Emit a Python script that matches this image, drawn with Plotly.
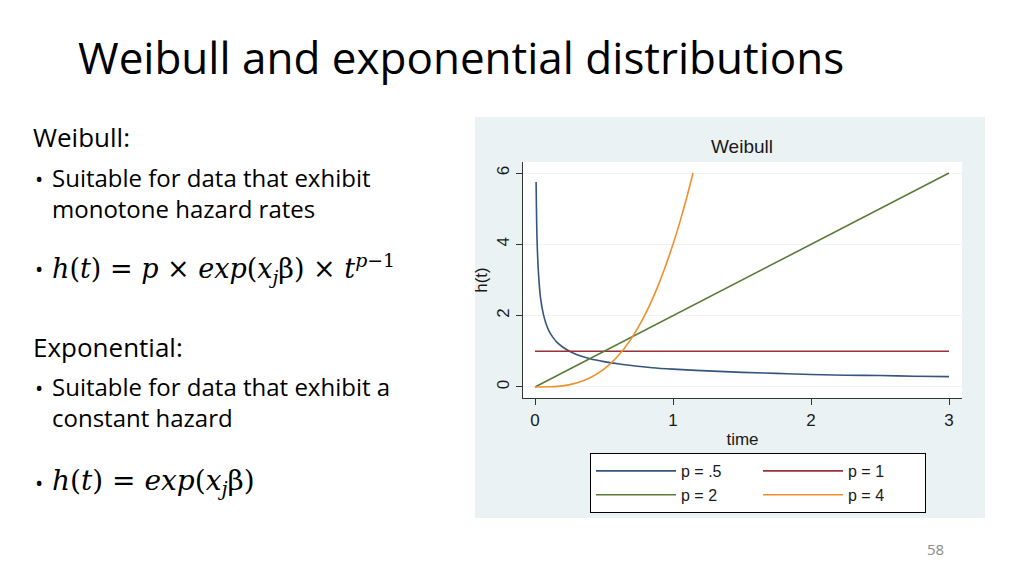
import plotly.graph_objects as go

# Weibull hazard curves
t_half = [0.008, 0.015, 0.025, 0.04, 0.06, 0.08, 0.1, 0.13, 0.16, 0.2, 0.25, 0.3, 0.4,
          0.5, 0.6, 0.7, 0.85, 1.0, 1.25, 1.5, 1.75, 2.0, 2.25, 2.5, 2.75, 3.0]
h_half = [5.75, 4.1, 3.2, 2.5, 2.05, 1.77, 1.58, 1.39, 1.25, 1.12, 1.0, 0.91, 0.79,
          0.71, 0.65, 0.6, 0.54, 0.5, 0.45, 0.41, 0.38, 0.35, 0.33, 0.32, 0.3, 0.29]

t_one = [0.0, 3.0]
h_one = [1.0, 1.0]

t_two = [0.0, 3.0]
h_two = [0.0, 6.0]

t_four = [0.0, 0.1, 0.2, 0.3, 0.4, 0.5, 0.6, 0.7, 0.8, 0.9, 1.0, 1.05, 1.1, 1.145]
h_four = [0.0, 0.004, 0.03, 0.11, 0.26, 0.5, 0.86, 1.37, 2.05, 2.92, 4.0, 4.63, 5.32, 6.0]

series_names = ["p = .5", "p = 1", "p = 2", "p = 4"]
series_colors = ["#35557f", "#9a3039", "#5a7b38", "#f0902c"]

x_ticks = [0, 1, 2, 3]
y_ticks = [0, 2, 4, 6]

# page is drawn with an 8px body margin, so the figure starts at (8, 8)
OFF = 8
W, H = 1024 - OFF, 575 - OFF
# plot region in page pixels
L, R, T, B = 523, 962, 162, 398


def px(x):
    return (x - L) / (R - L)


def py(y):
    return (B - y) / (B - T)


fig = go.Figure()
for tt, hh, name, col in zip([t_half, t_one, t_two, t_four],
                             [h_half, h_one, h_two, h_four],
                             series_names, series_colors):
    fig.add_trace(go.Scatter(x=tt, y=hh, mode="lines", name=name,
                             line=dict(color=col, width=1.6, shape="spline")))

# grey-blue Stata panel behind the chart
fig.add_shape(type="rect", xref="paper", yref="paper", layer="below",
              x0=px(475), x1=px(985), y0=py(518), y1=py(117),
              fillcolor="#eaf2f3", line=dict(width=0))
fig.add_shape(type="rect", xref="paper", yref="paper", layer="below",
              x0=0, x1=1, y0=0, y1=1,
              fillcolor="white", line=dict(width=0))

body = "Open Sans"
math = "DejaVu Serif"
headings = [("Weibull:", 137), ("Exponential:", 347)]
bullets = [
    ("Suitable for data that exhibit<br>monotone hazard rates", 193, body, 24),
    ("<i>h</i>(<i>t</i>) = <i>p</i> × <i>exp</i>(<i>x<sub>j</sub></i>β) × <i>t</i><sup><i>p</i>−1</sup>",
     268, math, 27),
    ("Suitable for data that exhibit a<br>constant hazard", 402, body, 24),
    ("<i>h</i>(<i>t</i>) = <i>exp</i>(<i>x<sub>j</sub></i>β)", 482, math, 28),
]
for txt, y in headings:
    fig.add_annotation(text=txt, xref="paper", yref="paper", x=px(31), y=py(y),
                       xanchor="left", yanchor="middle", showarrow=False,
                       font=dict(family=body, size=26, color="black"))
for txt, y, f, s in bullets:
    first_line = y - 15 if "<br>" in txt else y
    fig.add_annotation(text="•", xref="paper", yref="paper", x=px(33), y=py(first_line),
                       xanchor="left", yanchor="middle", showarrow=False,
                       font=dict(family=body, size=22, color="black"))
    fig.add_annotation(text=txt, xref="paper", yref="paper", x=px(50), y=py(y),
                       xanchor="left", yanchor="middle", align="left", showarrow=False,
                       font=dict(family=f, size=s, color="black"))

fig.add_annotation(text="Weibull and exponential distributions", xref="paper", yref="paper",
                   x=px(76), y=py(57), xanchor="left", yanchor="middle", showarrow=False,
                   font=dict(family=body, size=44, color="black"))
fig.add_annotation(text="Weibull", xref="paper", yref="paper", x=px(742), y=py(146),
                   xanchor="center", yanchor="middle", showarrow=False,
                   font=dict(family="Liberation Sans", size=19, color="#1a1a1a"))
fig.add_annotation(text="58", xref="paper", yref="paper", x=px(935), y=py(549),
                   xanchor="center", yanchor="middle", showarrow=False,
                   font=dict(family=body, size=15, color="#8a8a8a"))

fig.update_layout(
    width=W, height=H,
    margin=dict(l=L - OFF, r=W - (R - OFF), t=T - OFF, b=H - (B - OFF)),
    paper_bgcolor="white", plot_bgcolor="white",
    font=dict(family="Liberation Sans", size=17, color="#1a1a1a"),
    showlegend=True,
    legend=dict(orientation="h", xref="paper", yref="paper",
                x=px(590), y=py(453), xanchor="left", yanchor="top",
                bgcolor="white", bordercolor="black", borderwidth=1,
                entrywidth=72, itemwidth=80,
                font=dict(family="Liberation Sans", size=16, color="#1a1a1a")),
)
fig.update_xaxes(range=[-0.087, 3.094], tickvals=x_ticks, ticks="outside", ticklen=6,
                 tickcolor="#333", showline=True, linecolor="#333", linewidth=1.2,
                 showgrid=False, zeroline=False,
                 title=dict(text="time", font=dict(size=17), standoff=4))
fig.update_yaxes(range=[-0.31, 6.31], tickvals=y_ticks, ticks="outside", ticklen=6,
                 tickcolor="#333", showline=True, linecolor="#333", linewidth=1.2,
                 tickangle=-90, showgrid=True, gridcolor="#eef3f4", zeroline=False,
                 title=dict(text="h(t)", font=dict(size=17), standoff=2))

fig.write_html("out.html")
